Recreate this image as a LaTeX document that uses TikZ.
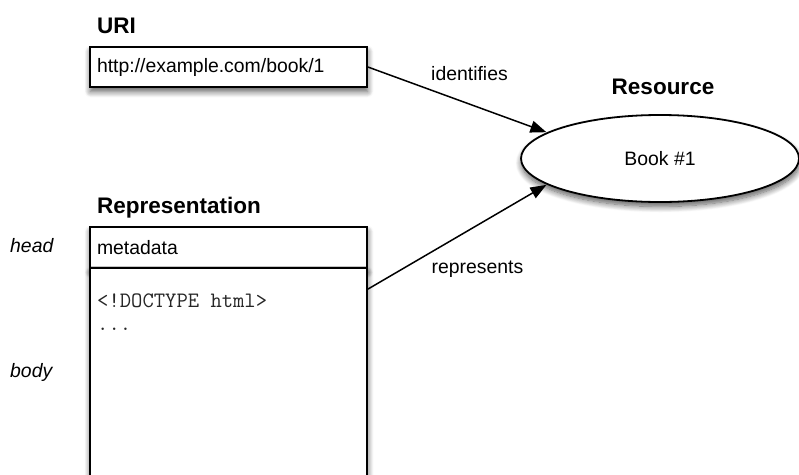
\documentclass[tikz,border=0pt]{standalone}
\usepackage{fontspec}
\setmainfont{Liberation Sans}
\usetikzlibrary{arrows.meta,shadows.blur,calc,shapes.geometric}

\tikzset{
  softshadow/.style={blur shadow={shadow xshift=0.5pt, shadow yshift=-4.5pt,
      shadow blur radius=6pt, shadow blur steps=10, shadow opacity=65}},
  box/.style={draw=black, line width=1.8pt, fill=white, rectangle,
      inner xsep=7pt, inner ysep=0pt, align=left, softshadow},
  blob/.style={draw=black, line width=1.8pt, fill=white, ellipse,
      inner sep=0pt, softshadow},
  title/.style={font=\fontsize{22.5}{27}\selectfont\bfseries, inner sep=0pt},
  plain/.style={font=\fontsize{19.4}{23}\selectfont, inner sep=0pt},
  side/.style={font=\fontsize{19.4}{23}\selectfont\itshape, inner sep=0pt},
  code/.style={font=\fontsize{22}{23}\selectfont\ttfamily, text=black!85,
      inner sep=0pt, align=left},
  link/.style={draw=black, line width=1.5pt,
      -{Triangle[length=16pt,width=12pt]}, shorten >=0.5pt},
}

\begin{document}
\begin{tikzpicture}[x=1pt, y=-1pt]
  \useasboundingbox (0,0) rectangle (799,474);
  \clip (0,0) rectangle (799,474);

  % URI
  \node[title, anchor=base west] (uriTitle) at (97,33) {URI};
  \node[box, minimum height=40pt, text width=263pt] (uri) at (228.5,67)
    {\fontsize{19.4}{23}\selectfont http://example.com/book/1};

  % Resource
  \node[title, anchor=base] (resTitle) at (663,94) {Resource};
  \node[blob, minimum width=278pt, minimum height=87pt] (res) at (660,158.5)
    {\fontsize{19.4}{23}\selectfont Book \#1};

  % Representation: head and body
  \node[title, anchor=base west] (repTitle) at (97,213) {Representation};
  \node[box, minimum height=41pt, text width=263pt] (head) at (228.5,247.5)
    {\fontsize{19.4}{23}\selectfont metadata};
  \node[box, minimum height=262pt, text width=263pt] (body) at (228.5,399) {};
  \node[code, anchor=base west] (doctype) at (97,307) {<!DOCTYPE html>};
  \node[code, anchor=base west] (dots) at (97,330) {...};

  \node[side, anchor=base west] (headLbl) at (10,252) {head};
  \node[side, anchor=base west] (bodyLbl) at (10,377) {body};

  % connectors
  \coordinate (repOut) at ($(body.north east)+(0,22)$);
  \draw[link] (uri.east) -- (res.167.5);
  \draw[link] (repOut) -- (res.193);
  \node[plain, anchor=base] (idLbl) at (469.5,80) {identifies};
  \node[plain, anchor=base] (repLbl) at (477.5,273) {represents};
\end{tikzpicture}
\end{document}
